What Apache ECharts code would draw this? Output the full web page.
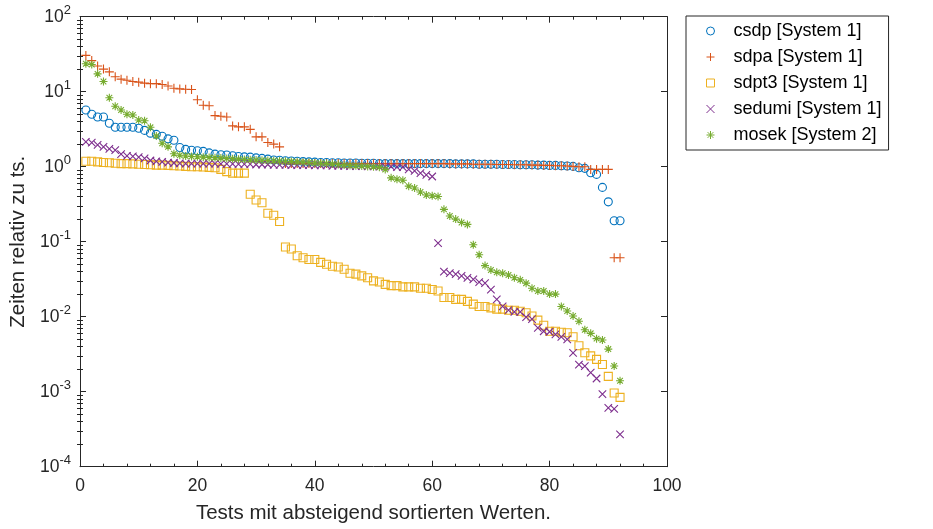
<!DOCTYPE html>
<html><head><meta charset="utf-8">
<script src="https://cdn.jsdelivr.net/npm/echarts@6/dist/echarts.min.js"></script>
<style>html,body{margin:0;padding:0;background:#fff}#c{width:933px;height:529px}</style>
</head><body><div id="c"></div>
<script>
// ---------- data (test index = position in array, starting at 1) ----------
const seriesNames = ['csdp [System 1]', 'sdpa [System 1]', 'sdpt3 [System 1]', 'sedumi [System 1]', 'mosek [System 2]'];

const csdp = [5.7, 5.0, 4.6, 4.6, 3.8, 3.35, 3.35, 3.35, 3.35, 3.25, 3.05, 2.8, 2.7, 2.55, 2.35, 2.25, 1.8, 1.7, 1.66, 1.63,
  1.6, 1.53, 1.47, 1.44, 1.43, 1.4, 1.37, 1.35, 1.34, 1.31, 1.29, 1.26, 1.23, 1.22, 1.2, 1.19, 1.18, 1.17, 1.16, 1.15,
  1.14, 1.14, 1.13, 1.13, 1.12, 1.12, 1.12, 1.11, 1.11, 1.11, 1.1, 1.1, 1.1, 1.1, 1.1, 1.1, 1.1, 1.1, 1.1, 1.1,
  1.1, 1.1, 1.1, 1.09, 1.09, 1.09, 1.09, 1.08, 1.08, 1.08, 1.08, 1.07, 1.07, 1.07, 1.06, 1.06, 1.06, 1.05, 1.05, 1.04,
  1.04, 1.03, 1.02, 1.01, 0.97, 0.95, 0.83, 0.79, 0.53, 0.34, 0.19, 0.19];

const sdpa = [30.5, 26, 22, 20, 18.4, 15.8, 14.7, 14.2, 13.7, 13.4, 13, 12.8, 12.8, 12.5, 11.9, 11.1, 10.9, 10.8, 10.7, 7.8,
  6.6, 6.5, 4.8, 4.7, 4.6, 3.5, 3.4, 3.4, 3.15, 2.5, 2.5, 2.1, 2.0, 1.84, 1.1, 1.1, 1.1, 1.1, 1.1, 1.1,
  1.1, 1.1, 1.1, 1.1, 1.1, 1.1, 1.1, 1.1, 1.1, 1.1, 1.1, 1.1, 1.1, 1.1, 1.1, 1.1, 1.1, 1.1, 1.1, 1.1,
  1.1, 1.1, 1.09, 1.09, 1.09, 1.09, 1.08, 1.08, 1.08, 1.08, 1.07, 1.07, 1.07, 1.06, 1.06, 1.06, 1.05, 1.05, 1.04, 1.04,
  1.03, 1.03, 1.02, 1.01, 1.0, 1.0, 0.92, 0.92, 0.92, 0.92, 0.061, 0.061];

const sdpt3 = [1.18, 1.18, 1.16, 1.14, 1.13, 1.11, 1.1, 1.1, 1.09, 1.08, 1.07, 1.06, 1.05, 1.05, 1.04, 1.03, 1.02, 1.01, 1.0, 1.0,
  0.99, 0.98, 0.97, 0.92, 0.86, 0.82, 0.82, 0.82, 0.43, 0.36, 0.33, 0.24, 0.225, 0.186, 0.085, 0.08, 0.065, 0.061, 0.058, 0.058,
  0.053, 0.05, 0.047, 0.046, 0.043, 0.038, 0.037, 0.035, 0.033, 0.030, 0.029, 0.027, 0.026, 0.026, 0.025, 0.025, 0.025, 0.024, 0.024, 0.023,
  0.022, 0.018, 0.018, 0.017, 0.017, 0.016, 0.0147, 0.0137, 0.0137, 0.0131, 0.0126, 0.0126, 0.0122, 0.0122, 0.0118, 0.0113, 0.0102, 0.009, 0.0077, 0.0064,
  0.0064, 0.0062, 0.0061, 0.0054, 0.0041, 0.0033, 0.003, 0.0027, 0.0023, 0.0016, 0.00096, 0.00084];

const sedumi = [2.15, 2.1, 1.95, 1.84, 1.73, 1.66, 1.47, 1.39, 1.37, 1.34, 1.29, 1.21, 1.18, 1.16, 1.13, 1.12, 1.11, 1.1, 1.1, 1.1,
  1.1, 1.1, 1.1, 1.09, 1.09, 1.09, 1.08, 1.08, 1.08, 1.07, 1.07, 1.07, 1.06, 1.06, 1.06, 1.05, 1.05, 1.05, 1.05, 1.04,
  1.04, 1.04, 1.03, 1.03, 1.03, 1.02, 1.02, 1.02, 1.01, 1.01, 1.0, 1.0, 1.0, 0.99, 0.99, 0.92, 0.88, 0.82, 0.78, 0.74,
  0.096, 0.04, 0.038, 0.037, 0.035, 0.033, 0.0315, 0.029, 0.028, 0.023, 0.017, 0.0137, 0.0122, 0.0116, 0.0116, 0.0099, 0.0093, 0.0071, 0.0064, 0.0063,
  0.0058, 0.0054, 0.005, 0.0033, 0.0023, 0.0022, 0.0018, 0.0015, 0.00093, 0.00061, 0.00059, 0.00027];

const mosek = [23.6, 23, 17.3, 13.7, 8.3, 6.4, 5.7, 5.0, 4.9, 4.2, 4.1, 3.35, 2.57, 2.05, 1.84, 1.49, 1.42, 1.39, 1.37, 1.36,
  1.34, 1.33, 1.32, 1.31, 1.29, 1.28, 1.26, 1.25, 1.24, 1.23, 1.22, 1.21, 1.2, 1.19, 1.18, 1.17, 1.16, 1.15, 1.14, 1.12,
  1.11, 1.1, 1.09, 1.07, 1.05, 1.04, 1.03, 1.02, 1.01, 1.0, 0.98, 0.92, 0.71, 0.68, 0.66, 0.55, 0.52, 0.46, 0.42, 0.41,
  0.4, 0.27, 0.22, 0.2, 0.18, 0.17, 0.091, 0.067, 0.048, 0.042, 0.039, 0.038, 0.036, 0.033, 0.031, 0.028, 0.024, 0.022, 0.022, 0.02,
  0.02, 0.0137, 0.0119, 0.0102, 0.0087, 0.0067, 0.006, 0.0051, 0.0049, 0.0037, 0.0022, 0.0014];

const xTicks = [0, 20, 40, 60, 80, 100];
const xMinorTicks = [4, 8, 12, 16, 24, 28, 32, 36, 44, 48, 52, 56, 64, 68, 72, 76, 84, 88, 92, 96];
const yDecades = [-4, -3, -2, -1, 0, 1, 2];
const xTitle = 'Tests mit absteigend sortierten Werten.';
const yTitle = 'Zeiten relativ zu ts.';

// ---------- styling ----------
const F = '"Liberation Sans", Helvetica, Arial, sans-serif';
const AX = '#262626';
const colors = ['#0072BD', '#D95319', '#EDB120', '#7E2F8E', '#77AC30'];
const plusP = 'path://M5,0L5,10M0,5L10,5';
const squareP = 'path://M0,0L10,0L10,10L0,10Z';
const crossP = 'path://M0,0L10,10M0,10L10,0';
const starP = 'path://M5,0L5,10M0,5L10,5M1.46,1.46L8.54,8.54M1.46,8.54L8.54,1.46';
const symbols = ['circle', plusP, squareP, crossP, starP];
const sizes = [8, 9, 8, 7.5, 8];
const allData = [csdp, sdpa, sdpt3, sedumi, mosek];

// log minor tick positions on a helper linear axis in exponent units
const yMinor = [];
for (let n = yDecades[0]; n < yDecades[yDecades.length - 1]; n++) {
  for (let k = 2; k <= 9; k++) yMinor.push(n + Math.log10(k));
}

const chart = echarts.init(document.getElementById('c'), null, {renderer: 'canvas'});

function xAx(pos, major) {
  return {
    type: 'value', min: 0, max: 100, interval: 20, position: pos, gridIndex: 0,
    axisLine: {show: major, onZero: false, lineStyle: {color: AX, width: 1}},
    axisTick: major ? {show: true, inside: true, length: 6, lineStyle: {color: AX}}
                    : {show: true, inside: true, length: 3, customValues: xMinorTicks, lineStyle: {color: AX}},
    axisLabel: {show: false},
    splitLine: {show: false}
  };
}
function yAx(pos) {
  return {
    type: 'log', logBase: 10, min: 1e-4, max: 100, position: pos,
    axisLine: {show: true, onZero: false, lineStyle: {color: AX, width: 1}},
    axisTick: {show: true, inside: true, length: 6, lineStyle: {color: AX}},
    axisLabel: {show: false},
    splitLine: {show: false}, minorTick: {show: false}
  };
}
function yMinorAx(pos) {
  return {
    type: 'value', min: yDecades[0], max: yDecades[yDecades.length - 1], position: pos,
    axisLine: {show: false},
    axisTick: {show: true, inside: true, length: 3, customValues: yMinor, lineStyle: {color: AX}},
    axisLabel: {show: false},
    splitLine: {show: false}
  };
}

const xAxes = [xAx('bottom', true), xAx('top', true), xAx('bottom', false), xAx('top', false)];
xAxes[0].axisLabel = {show: true, color: AX, fontFamily: F, fontSize: 17.5, margin: 10,
  customValues: xTicks};
xAxes[0].name = xTitle;
xAxes[0].nameLocation = 'middle';
xAxes[0].nameGap = 36;
xAxes[0].nameTextStyle = {color: AX, fontFamily: F, fontSize: 20.5};

const yAxes = [yAx('left'), yAx('right'), yMinorAx('left'), yMinorAx('right')];
yAxes[0].axisLabel = {
  show: true, margin: 9,
  formatter: v => '{b|10}{s|' + Math.round(Math.log10(v)) + '}',
  rich: {
    b: {fontFamily: F, fontSize: 17.5, color: AX, lineHeight: 26, verticalAlign: 'middle'},
    s: {fontFamily: F, fontSize: 13, color: AX, lineHeight: 8, verticalAlign: 'top'}
  }
};
yAxes[0].name = yTitle;
yAxes[0].nameLocation = 'middle';
yAxes[0].nameGap = 47;
yAxes[0].nameTextStyle = {color: AX, fontFamily: F, fontSize: 20.5};

const series = allData.map((arr, s) => ({
  type: 'scatter', name: seriesNames[s],
  xAxisIndex: 0, yAxisIndex: 0,
  data: arr.map((v, i) => [i + 1, v]),
  symbol: symbols[s], symbolSize: sizes[s],
  itemStyle: {color: 'rgba(0,0,0,0)', borderColor: colors[s], borderWidth: 1.1, opacity: 1},
  emphasis: {disabled: true},
  z: 2 + s
}));

chart.setOption({
  animation: false,
  backgroundColor: '#fff',
  grid: {left: 80, right: 266, top: 16.7, bottom: 62.3, show: false},
  legend: {
    orient: 'vertical', left: 686, top: 16,
    padding: [6, 7, 6, 20], itemGap: 8, itemWidth: 36, itemHeight: 8,
    backgroundColor: '#fff', borderColor: AX, borderWidth: 1, borderRadius: 0,
    textStyle: {fontFamily: F, fontSize: 18, color: '#000', lineHeight: 18},
    itemStyle: {borderWidth: 1},
    selectedMode: false,
    data: seriesNames.map((n, s) => ({name: n, icon: symbols[s]}))
  },
  xAxis: xAxes,
  yAxis: yAxes,
  series: series
});
</script></body></html>
